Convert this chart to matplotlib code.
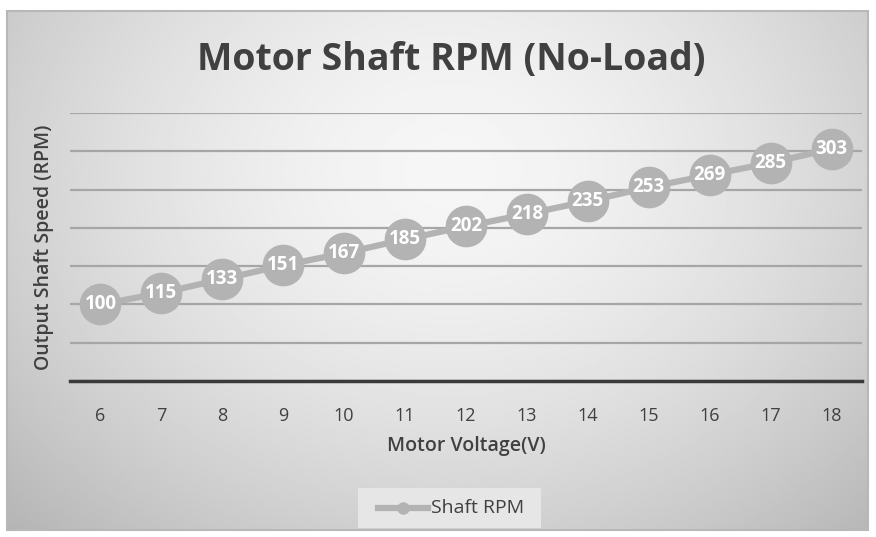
import numpy as np
import matplotlib.pyplot as plt
from matplotlib.patches import Rectangle

voltage = [6, 7, 8, 9, 10, 11, 12, 13, 14, 15, 16, 17, 18]
rpm = [100, 115, 133, 151, 167, 185, 202, 218, 235, 253, 269, 285, 303]

plt.rcParams['font.family'] = ['Open Sans', 'DejaVu Sans']

W, H = 876, 537
fig = plt.figure(figsize=(W / 100, H / 100), dpi=100, facecolor='white')

# gradient background of the chart frame (pixels)
bx0, bx1, by0, by1 = 7, 868, 11, 530
bg = fig.add_axes([0, 0, 1, 1])
bg.set_xlim(0, W)
bg.set_ylim(H, 0)
bg.axis('off')
xx, yy = np.meshgrid(np.linspace(bx0, bx1, 400), np.linspace(by0, by1, 260))
r = np.sqrt(((xx - 450) / 520) ** 2 + ((yy - 170) / 420) ** 2)
shade = np.clip(0.965 - 0.19 * r ** 1.6, 0, 1)
bg.imshow(shade, cmap='gray', vmin=0, vmax=1, extent=[bx0, bx1, by1, by0], aspect='auto', zorder=0)
bg.add_patch(Rectangle((bx0, by0), bx1 - bx0, by1 - by0, fill=False, edgecolor='#b8b8b8', lw=1.5, zorder=1))

# plot area
px0, px1, py0, py1 = 70, 862, 113, 381
ax = fig.add_axes([px0 / W, 1 - py1 / H, (px1 - px0) / W, (py1 - py0) / H])
ax.patch.set_alpha(0)
ax.set_xlim(5.5, 18.5)
ax.set_ylim(0, 350)
ax.set_yticks(range(0, 351, 50))
ax.set_yticklabels([])
ax.set_xticks(voltage)
ax.tick_params(axis='y', length=0)
ax.tick_params(axis='x', length=0, pad=19, labelsize=13, labelcolor='#404040')
ax.grid(axis='y', color='#a6a6a6', lw=1.6)
for s in ['top', 'right', 'left']:
    ax.spines[s].set_visible(False)
ax.spines['bottom'].set_color('#3a3a3a')
ax.spines['bottom'].set_linewidth(2.5)
ax.spines['bottom'].set_zorder(3)

ax.plot(voltage, rpm, color='#b3b3b3', lw=4.5, marker='o', markersize=29,
        markerfacecolor='#b3b3b3', markeredgecolor='#b3b3b3', zorder=4,
        label='Shaft RPM', clip_on=False)
for v, y in zip(voltage, rpm):
    ax.text(v, y, str(y), color='white', fontsize=13.5, fontweight='bold',
            ha='center', va='center', zorder=5)

ax.set_xlabel('Motor Voltage(V)', fontsize=14, fontweight='semibold',
              color='#404040', labelpad=8)
ax.set_ylabel('Output Shaft Speed (RPM)', fontsize=14, fontweight='semibold',
              color='#404040', labelpad=8)

fig.text(451 / W, 1 - 60 / H, 'Motor Shaft RPM (No-Load)', fontsize=27,
         fontweight='bold', color='#404040', ha='center', va='center')

# legend
lx0, lx1, ly0, ly1 = 358, 541, 488, 528
bg.add_patch(Rectangle((lx0, ly0), lx1 - lx0, ly1 - ly0, facecolor='#e6e6e6',
                       edgecolor='none', zorder=2))
lg = fig.add_axes([lx0 / W, 1 - ly1 / H, (lx1 - lx0) / W, (ly1 - ly0) / H])
lg.axis('off')
lg.set_xlim(lx0, lx1)
lg.set_ylim(ly1, ly0)
lg.plot([378, 428], [508, 508], color='#b3b3b3', lw=4.5)
lg.plot([403], [508], 'o', color='#b3b3b3', markersize=8)
lg.text(431, 508, 'Shaft RPM', fontsize=14, color='#404040', va='center', ha='left')

fig.savefig('out.png', dpi=100, facecolor='white')
